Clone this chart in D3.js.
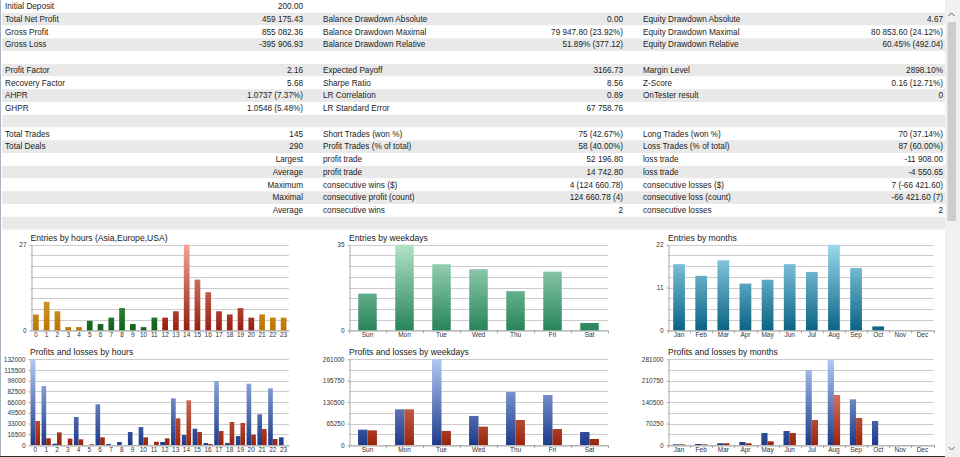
<!DOCTYPE html>
<html><head><meta charset="utf-8">
<script src="https://cdn.jsdelivr.net/npm/d3@7"></script>
<style>
html,body{margin:0;padding:0;background:#fff;overflow:hidden}
svg{display:block;font-family:"Liberation Sans",Arial,sans-serif}
</style></head><body>
<svg id="c" width="960" height="457"></svg>
<script>
// ---------- table data ----------
const col1Labels = ["Initial Deposit","Total Net Profit","Gross Profit","Gross Loss","","Profit Factor","Recovery Factor","AHPR","GHPR","","Total Trades","Total Deals","","","","",""];
const col1Values = ["200.00","459 175.43","855 082.36","-395 906.93","","2.16","5.68","1.0737 (7.37%)","1.0548 (5.48%)","","145","290","Largest","Average","Maximum","Maximal","Average"];
const col2Labels = ["","Balance Drawdown Absolute","Balance Drawdown Maximal","Balance Drawdown Relative","","Expected Payoff","Sharpe Ratio","LR Correlation","LR Standard Error","","Short Trades (won %)","Profit Trades (% of total)","profit trade","profit trade","consecutive wins ($)","consecutive profit (count)","consecutive wins"];
const col2Values = ["","0.00","79 947.80 (23.92%)","51.89% (377.12)","","3166.73","8.56","0.89","67 758.76","","75 (42.67%)","58 (40.00%)","52 196.80","14 742.80","4 (124 660.78)","124 660.78 (4)","2"];
const col3Labels = ["","Equity Drawdown Absolute","Equity Drawdown Maximal","Equity Drawdown Relative","","Margin Level","Z-Score","OnTester result","","","Long Trades (won %)","Loss Trades (% of total)","loss trade","loss trade","consecutive losses ($)","consecutive loss (count)","consecutive losses"];
const col3Values = ["","4.67","80 853.60 (24.12%)","60.45% (492.04)","","2898.10%","0.16 (12.71%)","0","","","70 (37.14%)","87 (60.00%)","-11 908.00","-4 550.65","7 (-66 421.60)","-66 421.60 (7)","2"];

// ---------- chart data ----------
const hours = d3.range(24).map(String);
const hourSession = ["asia","asia","asia","asia","asia","eu","eu","eu","eu","eu","eu","eu","usa","usa","usa","usa","usa","usa","usa","usa","usa","asia","asia","asia"];
const hourEntries = [5,9,6,1,1,3,2,4,7,2,1,4,4,6,27,16,12,6,5,7,4,5,4,4];
const weekdays = ["Sun","Mon","Tue","Wed","Thu","Fri","Sat"];
const weekdayEntries = [15,35,27,25,16,24,3];
const months = ["Jan","Feb","Mar","Apr","May","Jun","Jul","Aug","Sep","Oct","Nov","Dec"];
const monthEntries = [17,14,18,12,13,17,15,22,16,1,0,0];

const hourProfits = [132000,90900,2000,0,43100,0,62700,1500,4600,20000,27700,0,4600,71900,15400,25200,3000,98600,3000,13900,94500,47300,87300,11800];
const hourLosses  = [37000,10300,19500,9800,8700,1000,11800,0,0,0,11800,5100,10300,41100,68800,20000,1500,21600,35400,33900,15900,24700,9200,0];
const weekdayProfits = [46700,108700,261000,88400,161500,152300,39600];
const weekdayLosses  = [44700,108700,42700,55900,76200,48700,18300];
const monthProfits = [2200,3300,5500,9800,39400,45900,246000,281000,149800,78700,0,0];
const monthLosses  = [2000,2000,5500,5500,12000,39400,82000,164000,88600,0,0,0];

const hourEntryTicks = [0,27];
const weekdayEntryTicks = [0,35];
const monthEntryTicks = [0,11,22];
const hourPLTicks = [0,16500,33000,49500,66000,82500,99000,115500,132000];
const weekdayPLTicks = [0,65250,130500,195750,261000];
const monthPLTicks = [0,70250,140500,210750,281000];

// ---------- drawing ----------
const svg = d3.select("#c");
const defs = svg.append("defs");
const FS = 8.2, ROWH = 12.75;

// table backgrounds
const nRows = 18;
svg.append("g").selectAll("rect").data(d3.range(nRows)).join("rect")
  .attr("x", 2).attr("width", 943)
  .attr("y", i => i*ROWH).attr("height", ROWH)
  .attr("fill", i => i % 2 ? "#e9e9e9" : "#ffffff");

function column(labels, values, lx, vx) {
  const g = svg.append("g").attr("font-size", FS).attr("fill", "#1c1c1c");
  g.selectAll("text.l").data(labels).join("text").attr("class","l")
    .attr("x", lx).attr("y", (d,i) => i*ROWH + 9).text(d => d);
  g.selectAll("text.v").data(values).join("text").attr("class","v")
    .attr("x", vx).attr("y", (d,i) => i*ROWH + 9).attr("text-anchor","end").text(d => d);
}
column(col1Labels, col1Values, 5, 303);
column(col2Labels, col2Values, 323, 623);
column(col3Labels, col3Values, 643, 943);

// gradients
function grad(id, top, bottom, y1, y2) {
  const lg = defs.append("linearGradient").attr("id", id)
    .attr("gradientUnits","userSpaceOnUse").attr("x1",0).attr("x2",0).attr("y1",y1).attr("y2",y2);
  lg.append("stop").attr("offset","0").attr("stop-color", top);
  lg.append("stop").attr("offset","1").attr("stop-color", bottom);
}
const TOP1 = 244.7, BOT1 = 330.3, TOP2 = 359.3, BOT2 = 445;
grad("asia", "#f7d27c", "#bd7500", TOP1, BOT1);
grad("eu", "#7cc67c", "#0f641a", TOP1, BOT1);
grad("usa", "#f2a494", "#981f10", TOP1, BOT1);
grad("day", "#b2e3c9", "#27845a", TOP1, BOT1);
grad("mon", "#9ad9ed", "#0a6385", TOP1, BOT1);
grad("blue", "#b2c9f4", "#1d3a8a", TOP2, BOT2);
grad("red", "#f4a896", "#9a240c", TOP2, BOT2);

function frame(title, cats, x0, x1, top, bottom, maxV, ticks, pad, seps) {
  const g = svg.append("g");
  const x = d3.scaleBand().domain(cats).range([x0, x1]).paddingInner(pad).paddingOuter(pad/2);
  const y = d3.scaleLinear().domain([0, maxV]).range([bottom, top]);
  // grid
  g.append("g").selectAll("line").data(d3.range(9).map(i => maxV*i/8)).join("line")
    .attr("x1", x0).attr("x2", x1)
    .attr("y1", d => Math.round(y(d))+0.5).attr("y2", d => Math.round(y(d))+0.5)
    .attr("stroke", "#cccccc").attr("stroke-width", 1);
  // y axis
  const ya = g.append("g").attr("transform", `translate(${Math.round(x0)+0.5},0)`)
    .call(d3.axisLeft(y).tickValues(ticks).tickSize(2).tickSizeOuter(0).tickFormat(d3.format("d")));
  ya.select(".domain").attr("stroke", "#a8a8a8");
  ya.selectAll(".tick line").attr("stroke", "#a8a8a8");
  ya.selectAll("text").attr("font-size", 6.5).attr("fill", "#333").attr("font-family", "Liberation Sans, Arial, sans-serif").attr("x", -5);
  // x axis
  const xa = g.append("g").attr("transform", `translate(0,${Math.round(bottom)+0.5})`)
    .call(d3.axisBottom(x).tickSize(0).tickSizeOuter(0));
  xa.select(".domain").attr("stroke", "#a8a8a8");
  xa.selectAll("text").attr("font-size", 6.5).attr("fill", "#333").attr("dy", "0.5em").attr("font-family", "Liberation Sans, Arial, sans-serif");
  // separators between categories
  if (seps) {
    const step = x.step();
    g.append("g").selectAll("line").data(d3.range(cats.length+1)).join("line")
      .attr("x1", i => Math.round(x0 + i*step)+0.5).attr("x2", i => Math.round(x0 + i*step)+0.5)
      .attr("y1", bottom).attr("y2", bottom+3).attr("stroke", "#a8a8a8");
  }
  // title
  g.append("text").attr("x", x0).attr("y", top - 4).attr("font-size", 8.6).attr("fill", "#1a1a1a").text(title);
  return {g, x, y};
}

function entries(title, cats, vals, fills, x0, x1, maxV, ticks, pad, seps) {
  const {g, x, y} = frame(title, cats, x0, x1, TOP1, BOT1, maxV, ticks, pad, seps);
  g.append("g").selectAll("rect").data(vals).join("rect")
    .attr("x", (d,i) => x(cats[i])).attr("width", x.bandwidth())
    .attr("y", d => y(d)).attr("height", d => y(0) - y(d))
    .attr("fill", (d,i) => `url(#${fills[i]})`);
}

function pl(title, cats, prof, loss, x0, x1, maxV, ticks, pad, seps) {
  const {g, x, y} = frame(title, cats, x0, x1, TOP2, BOT2, maxV, ticks, pad, seps);
  const inner = d3.scaleBand().domain(["p","l"]).range([0, x.bandwidth()]);
  const rows = cats.map((c,i) => ({c, p: prof[i], l: loss[i]}));
  const gg = g.append("g");
  gg.selectAll("rect.p").data(rows).join("rect").attr("class","p")
    .attr("x", d => x(d.c) + inner("p")).attr("width", inner.bandwidth())
    .attr("y", d => y(d.p)).attr("height", d => y(0) - y(d.p)).attr("fill", "url(#blue)");
  gg.selectAll("rect.l").data(rows).join("rect").attr("class","l")
    .attr("x", d => x(d.c) + inner("l")).attr("width", inner.bandwidth())
    .attr("y", d => y(d.l)).attr("height", d => y(0) - y(d.l)).attr("fill", "url(#red)");
}

entries("Entries by hours (Asia,Europe,USA)", hours, hourEntries, hourSession, 30.5, 289, 27, hourEntryTicks, 0.47, false);
entries("Entries by weekdays", weekdays, weekdayEntries, weekdays.map(() => "day"), 349, 608, 35, weekdayEntryTicks, 0.5, true);
entries("Entries by months", months, monthEntries, months.map(() => "mon"), 668, 933.5, 22, monthEntryTicks, 0.47, true);

pl("Profits and losses by hours", hours, hourProfits, hourLosses, 30, 289, 132000, hourPLTicks, 0.14, false);
pl("Profits and losses by weekdays", weekdays, weekdayProfits, weekdayLosses, 349, 608, 261000, weekdayPLTicks, 0.49, true);
pl("Profits and losses by months", months, monthProfits, monthLosses, 668, 933.5, 281000, monthPLTicks, 0.44, true);

// window chrome: left border, bottom border, scrollbar
svg.append("line").attr("x1",0.5).attr("x2",0.5).attr("y1",0).attr("y2",457).attr("stroke","#a9b4c2");
svg.append("rect").attr("x",945).attr("y",0).attr("width",15).attr("height",457).attr("fill","#f0f0f0");
svg.append("rect").attr("x",947.5).attr("y",22).attr("width",8.5).attr("height",199).attr("fill","#cdcdcd");
svg.append("path").attr("d","M948.5,16 L951.5,13 L954.5,16").attr("fill","none").attr("stroke","#606060").attr("stroke-width",1);
svg.append("path").attr("d","M948.5,447 L951.5,450 L954.5,447").attr("fill","none").attr("stroke","#606060").attr("stroke-width",1);
svg.append("line").attr("x1",0).attr("x2",945).attr("y1",456.5).attr("y2",456.5).attr("stroke","#2a2a2a");
</script>
</body></html>
